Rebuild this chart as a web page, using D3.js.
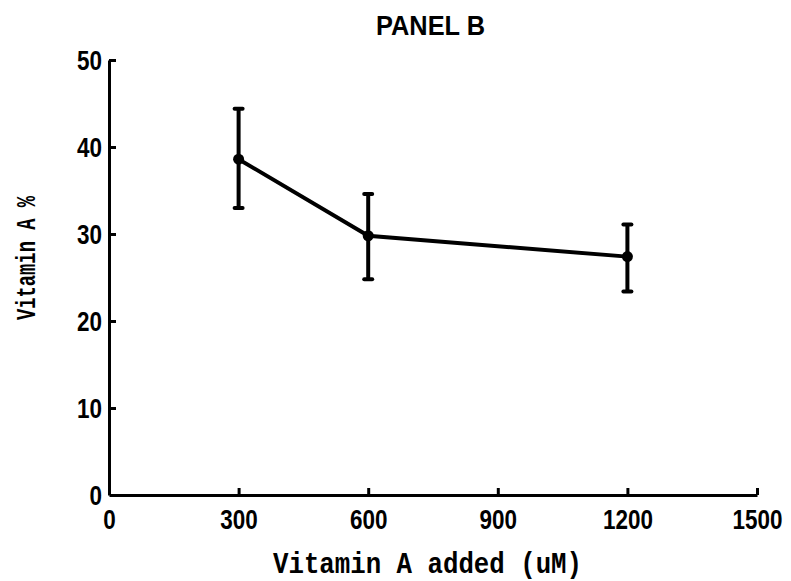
<!DOCTYPE html>
<html><head><meta charset="utf-8">
<script src="https://cdn.jsdelivr.net/npm/d3@7"></script>
<style>body{margin:0;background:#fff}</style>
</head><body>
<svg id="c" width="791" height="581"></svg>
<script>
const doses = [300, 600, 1200];
const means = [38.6, 29.8, 27.4];
const upper = [44.4, 34.6, 31.1];
const lower = [33.0, 24.8, 23.4];
const xTicks = [0, 300, 600, 900, 1200, 1500];
const yTicks = [0, 10, 20, 30, 40, 50];
const title = "PANEL B";
const xTitle = "Vitamin A added (uM)";
const yTitle = "Vitamin A %";

const svg = d3.select("#c");
const x = d3.scaleLinear().domain([0, 1500]).range([109, 757]);
const y = d3.scaleLinear().domain([0, 50]).range([495, 60]);
const font = "'Liberation Sans', sans-serif";

// axes
const xa = svg.append("g").attr("transform", `translate(0,${y(0)})`)
  .call(d3.axisBottom(x).tickValues(xTicks).tickFormat(d3.format("d")).tickSize(-7).tickPadding(15).tickSizeOuter(0));
const ya = svg.append("g").attr("transform", `translate(${x(0)},0)`)
  .call(d3.axisLeft(y).tickValues(yTicks).tickFormat(d3.format("d")).tickSize(-7).tickPadding(7).tickSizeOuter(0));
[xa, ya].forEach(a => {
  a.select(".domain").attr("stroke", "#000").attr("stroke-width", 3);
  a.selectAll(".tick line").attr("stroke", "#000").attr("stroke-width", 3);
  a.selectAll(".tick text").attr("fill", "#000").attr("font-family", font)
    .attr("font-size", 27).attr("font-weight", "bold")
    .attr("textLength", d => String(d).length * 12.5).attr("lengthAdjust", "spacingAndGlyphs");
});
xa.selectAll(".tick").filter(d => d === 0).select("line").remove();
ya.selectAll(".tick").filter(d => d === 0).select("line").remove();
xa.selectAll(".tick text").attr("dy", "0.72em");
ya.selectAll(".tick text").attr("dy", "0.34em");

// line
svg.append("path")
  .datum(doses.map((d, i) => [d, means[i]]))
  .attr("fill", "none").attr("stroke", "#000").attr("stroke-width", 4)
  .attr("d", d3.line().x(d => x(d[0])).y(d => y(d[1])));

// error bars
const eb = svg.append("g");
doses.forEach((d, i) => {
  eb.append("line").attr("x1", x(d)).attr("x2", x(d)).attr("y1", y(upper[i])).attr("y2", y(lower[i]))
    .attr("stroke", "#000").attr("stroke-width", 4);
  [upper[i], lower[i]].forEach(v => {
    eb.append("line").attr("x1", x(d) - 4).attr("x2", x(d) + 4).attr("y1", y(v)).attr("y2", y(v))
      .attr("stroke", "#000").attr("stroke-width", 4).attr("stroke-linecap", "round");
  });
  eb.append("circle").attr("cx", x(d)).attr("cy", y(means[i])).attr("r", 5.5).attr("fill", "#000");
});

// titles
svg.append("text").attr("x", 376).attr("y", 35)
  .attr("font-family", font).attr("font-size", 27).attr("font-weight", "bold")
  .attr("textLength", 109).attr("lengthAdjust", "spacingAndGlyphs").text(title);
svg.append("text").attr("x", 273).attr("y", 573)
  .attr("font-family", "'Liberation Mono', monospace").attr("font-size", 29).attr("font-weight", "bold")
  .attr("textLength", 309).attr("lengthAdjust", "spacingAndGlyphs").text(xTitle);
svg.append("text").attr("transform", "translate(35,320) rotate(-90)")
  .attr("font-family", "'Liberation Mono', monospace").attr("font-size", 28).attr("font-weight", "bold")
  .attr("textLength", 124).attr("lengthAdjust", "spacingAndGlyphs").text(yTitle);
</script>
</body></html>
